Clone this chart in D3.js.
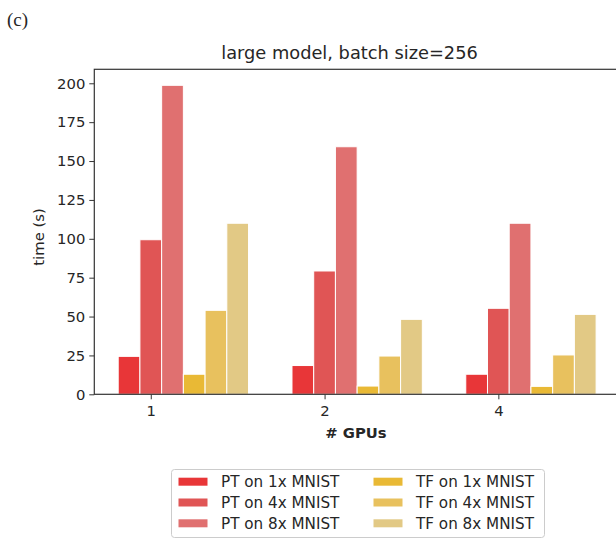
<!DOCTYPE html>
<html>
<head>
<meta charset="utf-8">
<script src="https://cdn.jsdelivr.net/npm/d3@7"></script>
<style>
  body { margin: 0; background: #fff; }
  text { font-family: "DejaVu Sans", sans-serif; fill: #262626; }
</style>
</head>
<body>
<div id="frame"></div>
<script>
// data
var gpus = ["1", "2", "4"];
var seriesNames = ["PT on 1x MNIST", "PT on 4x MNIST", "PT on 8x MNIST",
                   "TF on 1x MNIST", "TF on 4x MNIST", "TF on 8x MNIST"];
var pt1x = [24.4, 18.5, 12.9];
var pt4x = [99.4, 79.3, 55.3];
var pt8x = [198.7, 159.2, 110];
var tf1x = [12.9, 5.3, 5.1];
var tf4x = [54, 24.6, 25.3];
var tf8x = [110, 48.2, 51.4];
var yTicks = [0, 25, 50, 75, 100, 125, 150, 175, 200];
var colours = ["#e83638", "#e05555", "#e07070", "#e9b935", "#e8c15e", "#e2c985"];

var allSeries = [pt1x, pt4x, pt8x, tf1x, tf4x, tf8x];

var W = 616, H = 544;
// plot area edges (right spine falls just outside the picture)
var axL = 94.3, axR = 620, axT = 69.3, axB = 394.3;
var barW = 0.125;

var svg = d3.select('#frame').append('svg').attr('width', W).attr('height', H);

var x = d3.scaleLinear().domain([-0.325, 2.7]).range([axL, axR]);
var y = d3.scaleLinear().domain([0, 209]).range([axB, axT]);

// bars
allSeries.forEach(function(vals, i) {
  svg.append('g').selectAll('rect')
    .data(vals)
    .enter().append('rect')
    .attr('x', function(d, g) { return x(g + (i - 1) * barW - barW / 2); })
    .attr('width', x(barW) - x(0))
    .attr('y', function(d) { return y(d); })
    .attr('height', function(d) { return y(0) - y(d); })
    .attr('fill', colours[i])
    .attr('stroke', 'white')
    .attr('stroke-width', 1);
});

// y axis
var yAxis = svg.append('g').attr('transform', 'translate(' + axL + ',0)')
  .call(d3.axisLeft(y).tickValues(yTicks).tickSize(5).tickPadding(4));
yAxis.select('.domain').remove();
yAxis.selectAll('line').attr('stroke', '#333');
yAxis.selectAll('text').style('font-size', '14.8px')
  .style('font-family', '"DejaVu Sans", sans-serif').attr('fill', '#262626');

// x axis
var xAxis = svg.append('g').attr('transform', 'translate(0,' + axB + ')')
  .call(d3.axisBottom(x).tickValues([0, 1, 2]).tickFormat(function(d) { return gpus[d]; })
    .tickSize(5).tickPadding(6));
xAxis.select('.domain').remove();
xAxis.selectAll('line').attr('stroke', '#333');
xAxis.selectAll('text').style('font-size', '14.8px')
  .style('font-family', '"DejaVu Sans", sans-serif').attr('fill', '#262626');

// spines
svg.append('rect')
  .attr('x', axL).attr('y', axT)
  .attr('width', axR - axL).attr('height', axB - axT)
  .attr('fill', 'none').attr('stroke', '#333').attr('stroke-width', 1.2);

// labels
svg.append('text').attr('x', 7).attr('y', 26)
  .style('font-family', '"Liberation Serif", "DejaVu Serif", serif')
  .style('font-size', '19px').attr('fill', '#000').text('(c)');

svg.append('text').attr('x', 349.5).attr('y', 59).attr('text-anchor', 'middle')
  .style('font-size', '17.8px').text('large model, batch size=256');

svg.append('text').attr('transform', 'translate(44,237) rotate(-90)')
  .attr('text-anchor', 'middle').style('font-size', '14.8px').text('time (s)');

svg.append('text').attr('x', 356).attr('y', 438).attr('text-anchor', 'middle')
  .style('font-size', '14.8px').style('font-weight', 'bold').text('# GPUs');

// legend
var legend = svg.append('g');
legend.append('rect')
  .attr('x', 171.5).attr('y', 469.5).attr('width', 373).attr('height', 68)
  .attr('rx', 3).attr('fill', '#fff').attr('stroke', '#ccc').attr('stroke-width', 1);

var items = legend.selectAll('g.item')
  .data(seriesNames)
  .enter().append('g')
  .attr('class', 'item')
  .attr('transform', function(d, i) {
    var col = Math.floor(i / 3), row = i % 3;
    return 'translate(' + (178.5 + col * 195) + ',' + (481.7 + row * 20.8) + ')';
  });
items.append('rect')
  .attr('x', 0).attr('y', -4).attr('width', 29).attr('height', 8)
  .attr('fill', function(d, i) { return colours[i]; });
items.append('text')
  .attr('x', 42.5).attr('y', 5.4)
  .style('font-size', '15.2px').text(function(d) { return d; });
</script>
</body>
</html>
